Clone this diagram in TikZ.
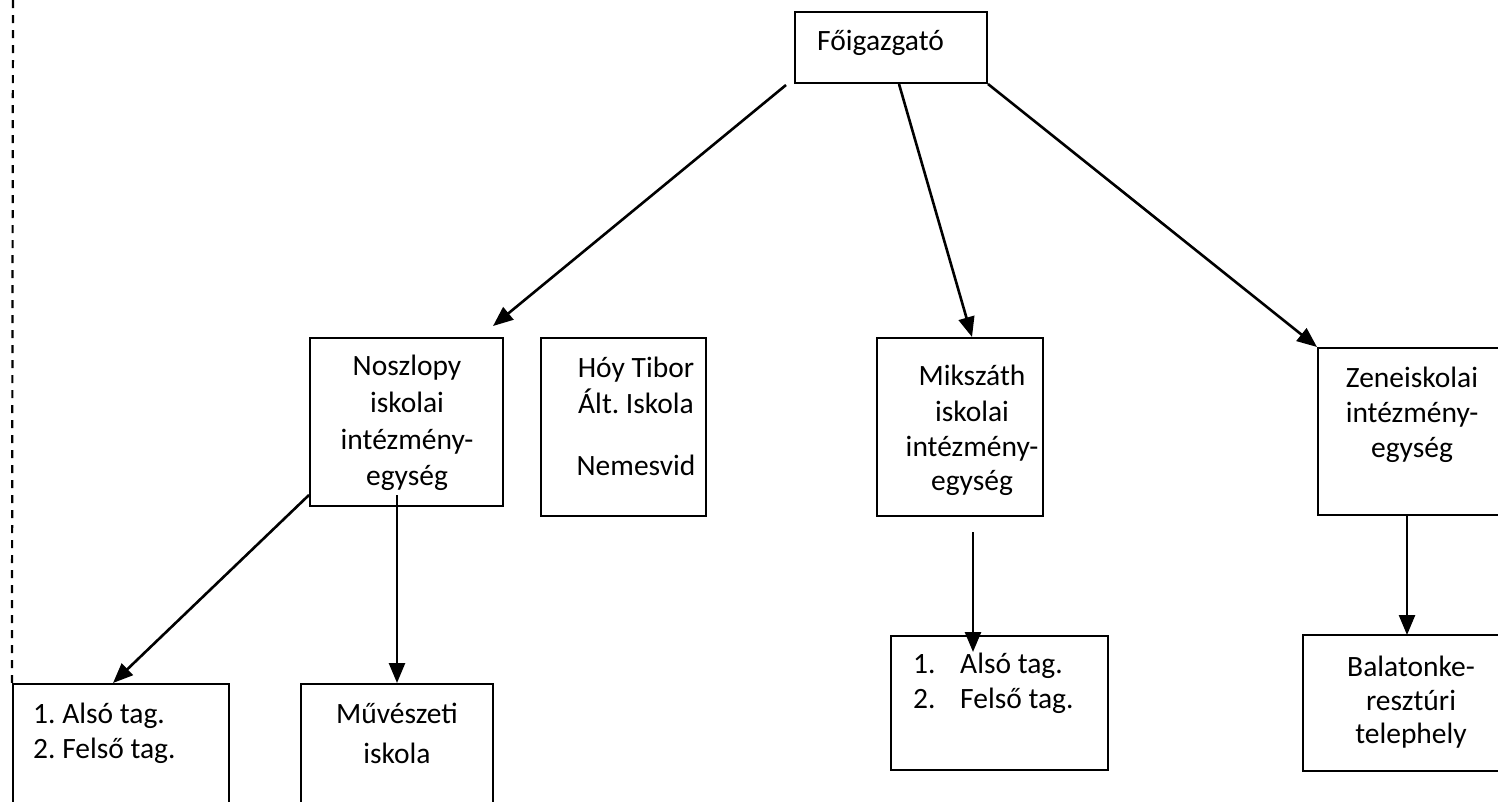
\documentclass[tikz,border=0pt]{standalone}
\usepackage{fontspec}
\setmainfont{Carlito}
\frenchspacing
\usetikzlibrary{arrows.meta}
\begin{document}
\begin{tikzpicture}[x=1pt,y=-1pt,
  box/.style={draw, line width=2.2pt, inner sep=0pt, rectangle},
  lbl/.style={font=\fontsize{29.5}{34}\selectfont, inner sep=0pt, anchor=base},
  lblw/.style={font=\fontsize{29.5}{34}\selectfont, inner sep=0pt, anchor=base west},
  arr/.style={line width=2.6pt, -{Triangle[length=20pt,width=16pt]}},
  dashline/.style={line width=2.2pt, dash pattern=on 8pt off 7pt}]
\useasboundingbox (0,0) rectangle (1498,801);
\clip (0,0) rectangle (1498,801);
% boxes
\node[box, minimum width=192pt, minimum height=71pt]  (fo)   at (891,47.5) {};
\node[box, minimum width=193pt, minimum height=168pt] (nosz) at (406.5,422) {};
\node[box, minimum width=165pt, minimum height=178pt] (hoy)  at (623.5,427) {};
\node[box, minimum width=166pt, minimum height=178pt] (miks) at (960,427) {};
\node[box, minimum width=222pt, minimum height=167pt] (zene) at (1429,431.5) {};
\node[box, minimum width=216pt, minimum height=146pt] (bl)   at (121,757) {};
\node[box, minimum width=192pt, minimum height=146pt] (muv)  at (397,757) {};
\node[box, minimum width=217pt, minimum height=134pt] (mc)   at (999.5,703) {};
\node[box, minimum width=237pt, minimum height=136pt] (bal)  at (1421.5,703) {};
% texts
\node[lblw] (tfo) at (817,50) {Főigazgató};
\node[lbl] (tn1) at (407,375) {Noszlopy};
\node[lbl] (tn2) at (407,412) {iskolai};
\node[lbl] (tn3) at (407,449) {intézmény-};
\node[lbl] (tn4) at (407,485) {egység};
\node[lbl] (th1) at (636,377) {Hóy Tibor};
\node[lbl] (th2) at (636,413) {Ált. Iskola};
\node[lbl] (th3) at (636,475) {Nemesvid};
\node[lbl] (tm1) at (972,385) {Mikszáth};
\node[lbl] (tm2) at (972,421) {iskolai};
\node[lbl] (tm3) at (972,456) {intézmény-};
\node[lbl] (tm4) at (972,490) {egység};
\node[lbl] (tz1) at (1412,387) {Zeneiskolai};
\node[lbl] (tz2) at (1412,422) {intézmény-};
\node[lbl] (tz3) at (1412,457) {egység};
\node[lblw] (tb1) at (33,723) {1. Alsó tag.};
\node[lblw] (tb2) at (33,758) {2. Felső tag.};
\node[lbl] (tv1) at (397,723) {Művészeti};
\node[lbl] (tv2) at (397,763) {iskola};
\node[lblw] (tc1a) at (913,673) {1.};
\node[lblw] (tc1b) at (960,673) {Alsó tag.};
\node[lblw] (tc2a) at (913,708) {2.};
\node[lblw] (tc2b) at (960,708) {Felső tag.};
\node[lbl] (ta1) at (1411,676) {Balatonke-};
\node[lbl] (ta2) at (1411,710) {resztúri};
\node[lbl] (ta3) at (1411,743) {telephely};
% connector end points
\coordinate (s1) at (786,85);  \coordinate (e1) at (493,326);
\coordinate (s2) at (899,84);  \coordinate (e2) at (972,337);
\coordinate (s3) at (988,84);  \coordinate (e3) at (1317,347);
\coordinate (s4) at (309,495); \coordinate (e4) at (113,683);
\coordinate (s5) at (397,495); \coordinate (e5) at (397,683);
\coordinate (s6) at (973,532); \coordinate (e6) at (973,652);
\coordinate (s7) at (1407,516); \coordinate (e7) at (1407,635);
\draw[arr] (s1) -- (e1);
\draw[arr] (s2) -- (e2);
\draw[arr] (s3) -- (e3);
\draw[arr] (s4) -- (e4);
\draw[arr] (s5) -- (e5);
\draw[arr] (s6) -- (e6);
\draw[arr] (s7) -- (e7);
% dashed line
\coordinate (dtop) at (13,0);
\draw[dashline] (dtop) -- (bl.north west);
\end{tikzpicture}
\end{document}
